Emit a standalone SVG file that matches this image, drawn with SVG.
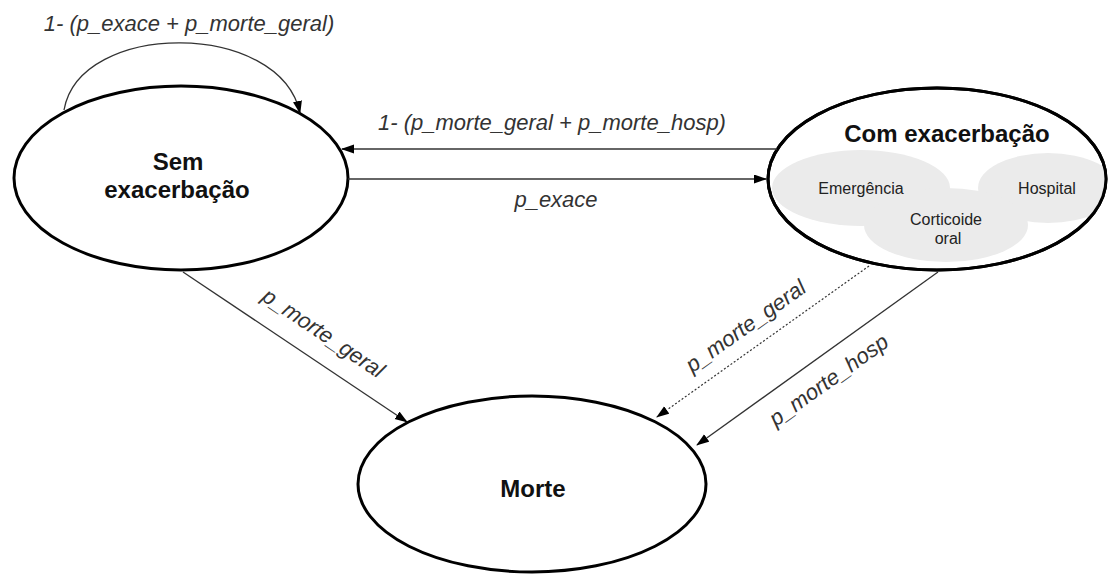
<svg xmlns="http://www.w3.org/2000/svg" width="1112" height="575" viewBox="0 0 1112 575">
  <style>
    .state { fill: #ffffff; stroke: #000000; stroke-width: 3; }
    .title { font-family: "Liberation Sans", Arial, sans-serif; font-weight: bold; font-size: 24px; fill: #111111; text-anchor: middle; }
    .sub { fill: #ebebeb; stroke: none; }
    .subtxt { font-family: "Liberation Sans", Arial, sans-serif; font-size: 16px; fill: #222222; text-anchor: middle; }
    .edge { fill: none; stroke: #333333; stroke-width: 1.3; }
    .dotted { stroke-dasharray: 2 2; stroke-width: 1.2; }
    .lbl { font-family: "Liberation Sans", Arial, sans-serif; font-style: italic; font-size: 22px; fill: #333333; text-anchor: middle; }
  </style>
  <defs>
    <marker id="arrow" markerUnits="userSpaceOnUse" markerWidth="13" markerHeight="10" refX="12" refY="4.5" orient="auto">
      <path d="M0,0 L13,4.5 L0,9 z" fill="#000000"/>
    </marker>
    <clipPath id="comClip">
      <ellipse cx="937" cy="179" rx="169" ry="91"/>
    </clipPath>
  </defs>

  <rect width="1112" height="575" fill="#ffffff"/>

  <!-- states -->
  <g id="sem-exacerbacao">
    <ellipse class="state" cx="181" cy="178" rx="167" ry="92"/>
    <text class="title" x="178" y="170">Sem</text>
    <text class="title" x="177" y="198">exacerbação</text>
  </g>

  <g id="com-exacerbacao">
    <ellipse class="state" cx="937" cy="179" rx="169" ry="91"/>
    <g clip-path="url(#comClip)">
      <ellipse class="sub" cx="861" cy="188" rx="89" ry="38"/>
      <ellipse class="sub" cx="1048" cy="188" rx="70" ry="35"/>
      <ellipse class="sub" cx="946" cy="225" rx="82" ry="37"/>
    </g>
    <ellipse cx="937" cy="179" rx="169" ry="91" fill="none" stroke="#000000" stroke-width="3"/>
    <text class="title" x="947" y="142">Com exacerbação</text>
    <text class="subtxt" x="861" y="194">Emergência</text>
    <text class="subtxt" x="1047" y="194">Hospital</text>
    <text class="subtxt" x="946" y="225">Corticoide</text>
    <text class="subtxt" x="948" y="244">oral</text>
  </g>

  <g id="morte">
    <ellipse class="state" cx="532" cy="484" rx="174" ry="88"/>
    <text class="title" x="533" y="497">Morte</text>
  </g>

  <!-- transitions -->
  <g id="connectors">
    <path class="edge" d="M64,110 C80,20 280,20 300,113" marker-end="url(#arrow)"/>
    <text class="lbl" x="189" y="31">1- (p_exace + p_morte_geral)</text>

    <path class="edge" d="M777,149 L342,149" marker-end="url(#arrow)"/>
    <text class="lbl" x="552" y="130">1- (p_morte_geral + p_morte_hosp)</text>

    <path class="edge" d="M348,179 L766,179" marker-end="url(#arrow)"/>
    <text class="lbl" x="556" y="207">p_exace</text>

    <path class="edge" d="M183,272 L407,422" marker-end="url(#arrow)"/>
    <text class="lbl" transform="translate(322,335) rotate(34)" x="0" y="5">p_morte_geral</text>

    <path class="edge dotted" d="M869,266 L657,417" marker-end="url(#arrow)"/>
    <text class="lbl" transform="translate(747,328) rotate(-35.5)" x="0" y="5">p_morte_geral</text>

    <path class="edge" d="M938,272 L697,445" marker-end="url(#arrow)"/>
    <text class="lbl" transform="translate(830,382) rotate(-35.5)" x="0" y="5">p_morte_hosp</text>
  </g>
</svg>
